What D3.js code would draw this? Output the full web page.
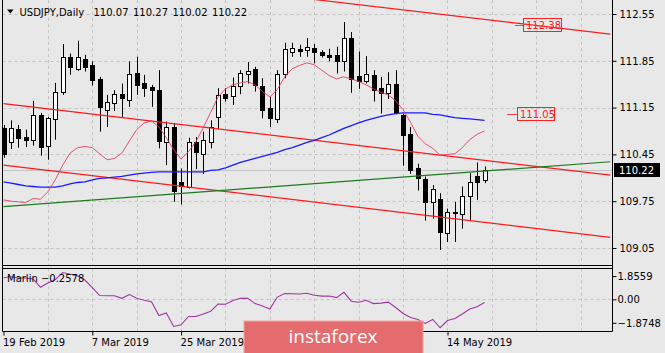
<!DOCTYPE html>
<html>
<head>
<meta charset="utf-8">
<script src="https://cdn.jsdelivr.net/npm/d3@7"></script>
<style>
  body { margin: 0; background: #e8e8e8; }
  svg { display: block; font-family: "DejaVu Sans", sans-serif; }
</style>
</head>
<body>
<svg id="chart"></svg>
<script>
// USDJPY daily bars, 19 Feb 2019 .. 21 May 2019 (one entry per bar)
const openP = [110.85,110.63,110.83,110.71,110.67,111.04,110.57,110.98,111.38,111.90,
  111.73,111.88,111.78,111.58,111.12,111.22,111.36,111.27,111.67,111.52,
  111.46,111.41,110.63,110.86,110.03,109.96,110.63,110.46,110.64,111.01,
  111.35,111.32,111.48,111.65,111.72,111.47,111.14,110.98,111.66,111.98,
  112.03,112.01,112.04,111.98,111.94,111.93,111.85,112.19,111.62,111.55,
  111.64,111.44,111.37,111.51,111.04,110.76,110.24,110.08,109.74,109.79,
  109.27,109.59,109.56,109.83,110.13,110.07];
const highP = [110.89,110.96,110.89,110.82,111.25,111.07,111.01,111.52,112.10,111.96,
  112.15,111.94,111.84,111.61,111.34,111.41,111.51,111.84,111.91,111.64,
  111.49,111.71,110.94,110.92,110.24,110.70,110.71,110.79,110.96,111.44,
  111.44,111.60,111.71,111.83,111.76,111.59,111.31,111.71,112.12,112.12,
  112.09,112.19,112.10,112.01,112.03,112.06,112.43,112.28,111.99,111.92,
  111.71,111.61,111.68,111.71,111.06,110.86,110.31,110.12,109.99,109.87,
  109.64,109.74,109.97,110.17,110.33,110.27];
const lowP = [110.40,110.53,110.55,110.56,110.58,110.43,110.37,110.67,111.34,111.64,
  111.70,111.69,111.48,110.79,110.86,111.10,111.01,111.16,111.34,111.31,
  111.16,110.54,110.29,109.74,109.70,109.94,110.23,110.16,110.54,110.83,
  111.24,111.19,111.35,111.51,111.39,110.99,110.86,110.92,111.59,111.91,
  111.91,111.91,111.81,111.90,111.84,111.66,111.69,111.37,111.43,111.51,
  111.24,111.06,111.28,111.05,110.28,110.16,109.91,109.46,109.49,109.02,
  109.14,109.14,109.34,109.47,109.77,110.02];
const closeP = [110.46,110.85,110.69,110.67,111.04,110.56,110.99,111.38,111.91,111.75,
  111.90,111.76,111.56,111.16,111.23,111.35,111.29,111.66,111.49,111.44,
  111.41,110.65,110.86,109.91,109.97,110.63,110.48,110.66,110.86,111.34,
  111.30,111.48,111.67,111.70,111.49,111.12,110.99,111.65,112.02,112.04,
  112.00,112.05,111.98,111.93,111.91,111.85,112.19,111.58,111.55,111.65,
  111.41,111.37,111.50,111.07,110.74,110.22,110.09,109.74,109.93,109.29,
  109.59,109.58,109.83,110.04,110.04,110.22];

// moving averages
const maSlow = [110.04,110.02,110.00,109.98,109.97,109.96,109.96,109.96,109.98,110.01,
  110.03,110.04,110.07,110.09,110.10,110.11,110.12,110.14,110.16,110.17,
  110.18,110.19,110.19,110.19,110.19,110.19,110.19,110.19,110.21,110.22,
  110.25,110.29,110.33,110.36,110.39,110.42,110.45,110.48,110.52,110.55,
  110.59,110.63,110.66,110.70,110.74,110.79,110.84,110.88,110.92,110.96,
  110.99,111.02,111.04,111.06,111.07,111.07,111.07,111.07,111.05,111.04,
  111.02,111.00,110.99,110.98,110.97,110.96];
const maFast = [109.77,109.75,109.74,109.73,109.79,109.78,109.89,110.07,110.29,110.47,
  110.55,110.57,110.55,110.46,110.37,110.39,110.47,110.65,110.82,110.92,
  110.95,110.86,110.70,110.52,110.38,110.49,110.64,110.85,111.08,111.31,
  111.43,111.49,111.52,111.54,111.49,111.39,111.31,111.42,111.61,111.73,
  111.78,111.82,111.79,111.71,111.63,111.58,111.61,111.58,111.54,111.49,
  111.43,111.38,111.34,111.25,111.12,110.93,110.72,110.61,110.54,110.44,
  110.45,110.46,110.55,110.67,110.75,110.80];

// Marlin oscillator (sub window)
const marlin = [1.73,1.80,1.70,1.70,1.62,0.96,1.30,1.58,2.14,2.00,
  1.86,1.54,0.94,0.30,0.29,0.29,0.08,0.38,0.08,-0.07,
  -0.19,-1.29,-1.09,-2.17,-2.04,-1.37,-1.37,-1.17,-0.96,-0.38,
  -0.39,-0.10,0.08,0.08,-0.34,-0.54,-0.77,0.18,0.47,0.44,
  0.42,0.48,0.32,0.26,0.26,0.14,0.56,-0.15,-0.23,-0.07,
  -0.34,-0.30,-0.22,-0.65,-1.13,-1.45,-1.61,-1.92,-1.61,-2.27,
  -1.69,-1.53,-1.17,-0.77,-0.59,-0.2578];

// trend lines: [bar, price] end points
const channelLines = [
  [[0, 113.31], [82, 112.25]],
  [[0, 111.21], [82, 110.14]],
  [[0, 110.29], [82, 109.21]]
];
const supportLine = [[0, 109.67], [82, 110.34]];

// price labels placed on the chart
const priceMarks = [112.38, 111.05];
const lastPrice = 110.22;

// axes (the labels under the watermark are not visible, so they are left out)
const priceTicks = [112.55, 111.85, 111.15, 110.45, 109.75, 109.05];
const marlinTicks = [1.8559, 0.00, -1.8748];
const dateTickBars = [0, 12, 24, 60];
const dateTickLabels = ['19 Feb 2019', '7 Mar 2019', '25 Mar 2019', '14 May 2019'];
const titleParts = ['USDJPY,Daily', '110.07', '110.27', '110.02', '110.22'];
const lastBar = 82;

class CandleChart {
  constructor(_config) {
    this.config = {
      parentElement: _config.parentElement,
      containerWidth: _config.containerWidth || 665,
      containerHeight: _config.containerHeight || 353,
      left: 2.5,
      right: 612.5,
      mainTop: 0,
      mainBottom: 265.5,
      subTop: 268.5,
      subBottom: 331.5
    };
    this.initVis();
  }

  initVis() {
    let vis = this;
    const c = vis.config;

    vis.svg = d3.select(c.parentElement)
        .attr('width', c.containerWidth)
        .attr('height', c.containerHeight);

    vis.svg.append('rect')
        .attr('width', c.containerWidth)
        .attr('height', c.containerHeight)
        .attr('fill', '#e8e8e8');

    // scales
    vis.xScale = d3.scaleLinear().domain([0, lastBar]).range([3.5, 610.3]);
    vis.yScale = d3.scaleLinear().domain([109.05, 112.55]).range([248, 14]);
    vis.mScale = d3.scaleLinear().domain([-1.8748, 1.8559]).range([322.8, 276.1]);

    const defs = vis.svg.append('defs');
    defs.append('clipPath').attr('id', 'clip-main')
      .append('rect')
        .attr('x', c.left).attr('y', c.mainTop)
        .attr('width', c.right - c.left).attr('height', c.mainBottom - c.mainTop);
    defs.append('clipPath').attr('id', 'clip-sub')
      .append('rect')
        .attr('x', c.left).attr('y', c.subTop)
        .attr('width', c.right - c.left).attr('height', c.subBottom - c.subTop);

    vis.main = vis.svg.append('g').attr('clip-path', 'url(#clip-main)');
    vis.sub = vis.svg.append('g').attr('clip-path', 'url(#clip-sub)');
  }

  updateVis() {
    let vis = this;
    const c = vis.config;
    const x = vis.xScale, y = vis.yScale, m = vis.mScale;
    const gridBars = d3.range(6, lastBar + 1, 6);

    // grid
    const grid = vis.main.append('g')
        .attr('stroke', '#c3c3c3')
        .attr('stroke-dasharray', '3,3');
    grid.selectAll('.vgrid').data(gridBars).join('line')
        .attr('x1', d => Math.round(x(d)) + 0.5).attr('x2', d => Math.round(x(d)) + 0.5)
        .attr('y1', c.mainTop).attr('y2', c.mainBottom);
    grid.selectAll('.hgrid').data(priceTicks).join('line')
        .attr('x1', c.left).attr('x2', c.right)
        .attr('y1', d => Math.round(y(d)) + 0.5).attr('y2', d => Math.round(y(d)) + 0.5);

    const subGrid = vis.sub.append('g')
        .attr('stroke', '#c3c3c3')
        .attr('stroke-dasharray', '3,3');
    subGrid.selectAll('line.v').data(gridBars).join('line')
        .attr('x1', d => Math.round(x(d)) + 0.5).attr('x2', d => Math.round(x(d)) + 0.5)
        .attr('y1', c.subTop).attr('y2', c.subBottom);
    subGrid.append('line')
        .attr('x1', c.left).attr('x2', c.right)
        .attr('y1', Math.round(m(0)) + 0.5).attr('y2', Math.round(m(0)) + 0.5);

    // bid line
    vis.main.append('line')
        .attr('x1', c.left).attr('x2', c.right)
        .attr('y1', Math.round(y(lastPrice)) + 0.5).attr('y2', Math.round(y(lastPrice)) + 0.5)
        .attr('stroke', '#c4c4c4');

    // candles
    const bars = openP.map((o, i) => ({i: i, o: o, h: highP[i], l: lowP[i], c: closeP[i]}));
    const candle = vis.main.selectAll('.candle').data(bars).join('g')
        .attr('class', 'candle')
        .attr('transform', d => `translate(${Math.round(x(d.i))},0)`);
    candle.append('line')
        .attr('x1', 0.5).attr('x2', 0.5)
        .attr('y1', d => y(d.h)).attr('y2', d => y(d.l))
        .attr('stroke', '#000');
    candle.append('rect')
        .attr('x', -1.5).attr('width', 4)
        .attr('y', d => Math.round(y(Math.max(d.o, d.c))) + 0.5)
        .attr('height', d => Math.max(0, Math.round(y(Math.min(d.o, d.c))) - Math.round(y(Math.max(d.o, d.c)))))
        .attr('fill', d => d.c >= d.o ? '#fff' : '#000')
        .attr('stroke', '#000');

    // trend lines
    const seg = d3.line().x(d => x(d[0])).y(d => y(d[1]));
    vis.main.selectAll('.channel').data(channelLines).join('path')
        .attr('d', seg)
        .attr('fill', 'none')
        .attr('stroke', '#ff1a1a')
        .attr('stroke-width', 1.2);
    vis.main.append('path')
        .attr('d', seg(supportLine))
        .attr('fill', 'none')
        .attr('stroke', '#1d7a1d')
        .attr('stroke-width', 1.2);

    // moving averages
    const maLine = d3.line().x((d, i) => x(i)).y(d => y(d));
    vis.main.append('path')
        .attr('d', maLine(maSlow))
        .attr('fill', 'none')
        .attr('stroke', '#1a1aff')
        .attr('stroke-width', 1.3);
    vis.main.append('path')
        .attr('d', maLine(maFast))
        .attr('fill', 'none')
        .attr('stroke', '#e2375a')
        .attr('stroke-opacity', 0.85)
        .attr('stroke-width', 1);

    // price marks with boxes
    const marks = vis.svg.selectAll('.mark').data(priceMarks).join('g')
        .attr('class', 'mark')
        .attr('transform', (d, i) => `translate(${i === 0 ? 523 : 517},${Math.round(y(d))})`);
    marks.append('line')
        .attr('x1', (d, i) => i === 0 ? -8 : -10).attr('x2', 0)
        .attr('y1', 0.5).attr('y2', 0.5)
        .attr('stroke', '#ff4040');
    marks.append('rect')
        .attr('x', 0.5).attr('y', -6.5)
        .attr('width', (d, i) => i === 0 ? 38 : 37).attr('height', 13)
        .attr('fill', 'none')
        .attr('stroke', '#ff2020');
    marks.append('text')
        .attr('x', 3).attr('y', 4)
        .attr('font-size', 10)
        .attr('fill', '#ff1a1a')
        .text(d => d.toFixed(2));

    // Marlin line
    vis.sub.append('path')
        .attr('d', d3.line().x((d, i) => x(i)).y(d => m(d))(marlin))
        .attr('fill', 'none')
        .attr('stroke', '#a035a5')
        .attr('stroke-width', 1.1);

    // frames
    const frame = vis.svg.append('g').attr('stroke', '#000').attr('fill', 'none');
    frame.append('line').attr('x1', c.left).attr('x2', c.left).attr('y1', 0).attr('y2', c.subBottom);
    frame.append('line').attr('x1', c.right).attr('x2', c.right).attr('y1', 0).attr('y2', c.subBottom);
    frame.append('line').attr('x1', c.left).attr('x2', c.right).attr('y1', c.mainBottom).attr('y2', c.mainBottom);
    frame.append('line').attr('x1', c.left).attr('x2', c.right).attr('y1', c.subTop).attr('y2', c.subTop);
    frame.append('line').attr('x1', c.left).attr('x2', c.right).attr('y1', c.subBottom).attr('y2', c.subBottom);

    // price axis
    vis.yAxisG = vis.svg.append('g')
        .attr('transform', `translate(${c.right},0)`)
        .call(d3.axisRight(y).tickValues(priceTicks).tickSize(4).tickPadding(3).tickFormat(d3.format('.2f')))
        .call(g => g.select('.domain').remove());
    vis.svg.append('g')
        .attr('transform', `translate(${c.right},0)`)
        .call(d3.axisRight(m).tickValues(marlinTicks).tickSize(4).tickPadding(1)
          .tickFormat(d => d === 0 ? '0.00' : d3.format('.4f')(d)))
        .call(g => g.select('.domain').remove());

    // date axis
    vis.svg.append('g')
        .attr('transform', `translate(0,${c.subBottom})`)
        .call(d3.axisBottom(x).tickValues(dateTickBars).tickSize(4).tickPadding(3)
          .tickFormat((d, i) => dateTickLabels[i]))
        .call(g => g.select('.domain').remove())
        .call(g => g.selectAll('text').attr('text-anchor', 'start').attr('dx', -1));

    vis.svg.selectAll('.tick text')
        .attr('font-family', '"DejaVu Sans", sans-serif')
        .attr('font-size', 10)
        .attr('fill', '#000');
    vis.svg.selectAll('.tick line').attr('stroke', '#000');

    // current price box
    const lp = Math.round(y(lastPrice));
    vis.svg.append('rect')
        .attr('x', 614).attr('y', lp - 7)
        .attr('width', 46).attr('height', 14)
        .attr('fill', '#000');
    vis.svg.append('text')
        .attr('x', 619).attr('y', lp + 4)
        .attr('font-size', 10)
        .attr('fill', '#fff')
        .text(lastPrice.toFixed(2));

    // title
    vis.svg.append('path')
        .attr('d', 'M7,9.5 L13.5,9.5 L10.25,13.5 Z')
        .attr('fill', '#000');
    const titleX = [19.5, 93.5, 133, 172.5, 212];
    vis.svg.selectAll('.title').data(titleParts).join('text')
        .attr('class', 'title')
        .attr('x', (d, i) => titleX[i]).attr('y', 16)
        .attr('font-size', 10)
        .attr('fill', '#000')
        .text(d => d);

    vis.svg.append('text')
        .attr('x', 7).attr('y', 282)
        .attr('font-size', 10)
        .attr('fill', '#000')
        .text('Marlin ' + d3.format('.4f')(marlin[marlin.length - 1]));

    // watermark
    const logo = vis.svg.append('g');
    logo.append('rect')
        .attr('x', 244).attr('y', 321)
        .attr('width', 179).attr('height', 34)
        .attr('fill', '#e46c6e')
        .attr('stroke', '#f2a3a3');
    logo.append('text')
        .attr('x', 333).attr('y', 343)
        .attr('text-anchor', 'middle')
        .attr('font-family', '"Open Sans", sans-serif')
        .attr('font-size', 19)
        .attr('fill', '#fff')
        .text('instaforex');
  }
}

const chart = new CandleChart({parentElement: '#chart'});
chart.updateVis();
</script>
</body>
</html>
